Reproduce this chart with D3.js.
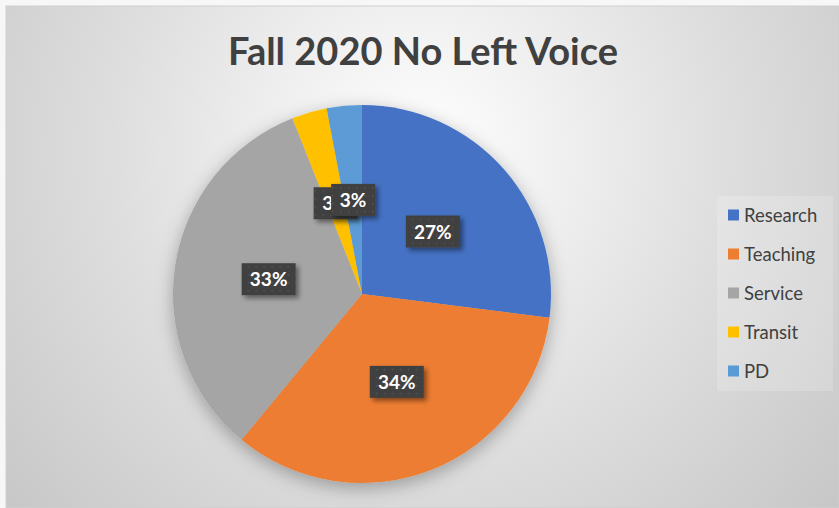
<!DOCTYPE html>
<html><head><meta charset="utf-8">
<script src="https://cdn.jsdelivr.net/npm/d3@7"></script>
<style>html,body{margin:0;padding:0;background:#fafafa;}svg{display:block;}</style>
</head><body>
<svg id="chart" width="839" height="508"></svg>
<script>
const title = "Fall 2020 No Left Voice";
const categories = ["Research", "Teaching", "Service", "Transit", "PD"];
const values = [27, 34, 33, 3, 3];
const labels = ["27%", "34%", "33%", "3%", "3%"];
const colors = ["#4472C4", "#ED7D31", "#A5A5A5", "#FFC000", "#5B9BD5"];

const W = 839, H = 508;
const svg = d3.select("#chart");
const defs = svg.append("defs");

const rg = defs.append("radialGradient").attr("id","bg")
  .attr("gradientUnits","userSpaceOnUse")
  .attr("cx",420).attr("cy",150).attr("r",560)
  .attr("fx",420).attr("fy",150);
rg.append("stop").attr("offset","0").attr("stop-color","#ffffff");
rg.append("stop").attr("offset","0.55").attr("stop-color","#dedede");
rg.append("stop").attr("offset","1").attr("stop-color","#c6c6c6");

const pf = defs.append("filter").attr("id","pieShadow").attr("x","-30%").attr("y","-30%").attr("width","160%").attr("height","160%");
pf.append("feDropShadow").attr("dx",0).attr("dy",5).attr("stdDeviation",9)
  .attr("flood-color","#000").attr("flood-opacity",0.3);

const lf = defs.append("filter").attr("id","lblShadow").attr("x","-30%").attr("y","-30%").attr("width","160%").attr("height","160%");
lf.append("feDropShadow").attr("dx",3).attr("dy",3).attr("stdDeviation",2.5)
  .attr("flood-color","#000").attr("flood-opacity",0.45);

const pat = defs.append("pattern").attr("id","dots").attr("patternUnits","userSpaceOnUse")
  .attr("width",8).attr("height",8);
pat.append("rect").attr("width",8).attr("height",8).attr("fill","#404040");
pat.append("rect").attr("x",3).attr("y",3).attr("width",1.3).attr("height",1.3).attr("fill","#5a5a5a");

// frame
svg.append("rect").attr("x",0).attr("y",0).attr("width",W).attr("height",H).attr("fill","#f7f7f7");
svg.append("rect").attr("x",6).attr("y",6).attr("width",W-6).attr("height",H-6)
  .attr("fill","url(#bg)").attr("stroke","#cfcfcf").attr("stroke-width",1);

// title
svg.append("text").attr("x",423).attr("y",65).attr("text-anchor","middle")
  .attr("font-family","Lato, 'Open Sans', sans-serif").attr("font-weight","bold")
  .attr("font-size",38).attr("fill","#404040").text(title);

// pie
const cx = 362, cy = 294, R = 189;
const pie = d3.pie().sort(null).value(d => d)(values);
const arc = d3.arc().innerRadius(0).outerRadius(R);
const g = svg.append("g").attr("transform",`translate(${cx},${cy})`);
g.append("g").attr("filter","url(#pieShadow)")
  .selectAll("path").data(pie).join("path")
  .attr("d",arc).attr("fill",(d,i)=>colors[i]);

// data labels
const lblG = g.append("g");
pie.forEach((d,i) => {
  const [x,y] = arc.centroid(d);
  const t = labels[i];
  const lg = lblG.append("g").attr("transform",`translate(${x},${y})`);
  const bw = t.length === 3 ? 54 : 44, bh = 32;
  lg.append("rect").attr("x",-bw/2).attr("y",-bh/2).attr("width",bw).attr("height",bh)
    .attr("fill","url(#dots)").attr("filter","url(#lblShadow)");
  lg.append("text").attr("text-anchor","middle").attr("y",7)
    .attr("font-family","Lato, 'Open Sans', sans-serif").attr("font-weight","bold")
    .attr("font-size",19).attr("fill","#ffffff").text(t);
});

// legend
const legX = 728, legY0 = 215, legStep = 39;
svg.append("rect").attr("x",717).attr("y",196).attr("width",116).attr("height",195)
  .attr("fill","#ffffff").attr("opacity",0.18);
const leg = svg.append("g");
categories.forEach((c,i) => {
  const y = legY0 + i*legStep;
  leg.append("rect").attr("x",legX).attr("y",y-5.5).attr("width",11).attr("height",11).attr("fill",colors[i]);
  leg.append("text").attr("x",744).attr("y",y+6.5)
    .attr("font-family","Lato, 'Open Sans', sans-serif").attr("font-size",18.5)
    .attr("fill","#404040").text(c);
});
</script>
</body></html>
